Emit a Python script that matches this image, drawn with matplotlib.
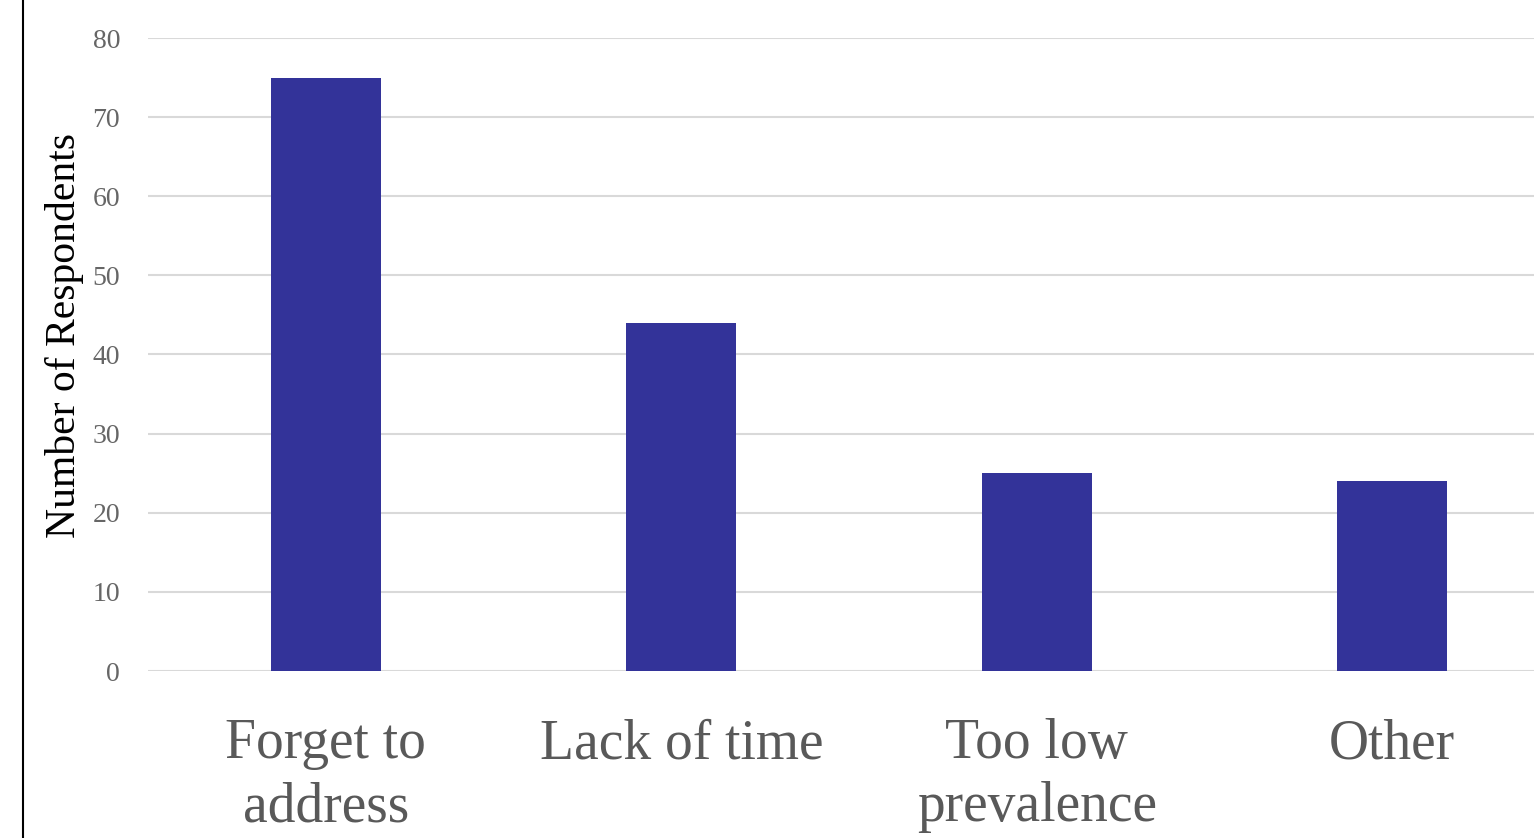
import matplotlib
matplotlib.use("Agg")
import matplotlib.pyplot as plt
from matplotlib.lines import Line2D

categories = ["Forget to\naddress", "Lack of time", "Too low\nprevalence", "Other"]
values = [75, 44, 25, 24]
yticks = [0, 10, 20, 30, 40, 50, 60, 70, 80]

plt.rcParams['font.family'] = ['Liberation Serif', 'DejaVu Serif']

W, H = 1534, 838
fig = plt.figure(figsize=(W/100, H/100), dpi=100)
left = 148 / W
right = 1570 / W
bottom = (H - 671) / H
top = (H - 38) / H
ax = fig.add_axes([left, bottom, right - left, top - bottom])

x = list(range(len(categories)))
ax.bar(x, values, width=0.31, color='#333399', zorder=3)
ax.set_xlim(-0.5, len(categories) - 0.5)
ax.set_ylim(0, 80)
ax.set_yticks(yticks)
ax.set_yticklabels([str(t) for t in yticks], fontsize=20, color='#666666')
ax.set_xticks(x)
ax.set_xticklabels(categories, fontsize=40, color='#595959', linespacing=1.27)
ax.tick_params(axis='both', length=0)
ax.tick_params(axis='y', pad=20)
ax.tick_params(axis='x', pad=34)
ax.grid(axis='y', color='#d9d9d9', linewidth=1.5, zorder=0)
for s in ax.spines.values():
    s.set_visible(False)
ax.set_ylabel("Number of Respondents", fontsize=30, color='black')
ax.yaxis.set_label_coords(-64 / ((right - left) * W), 0.53)

fig.add_artist(Line2D([23 / W, 23 / W], [0, 1], transform=fig.transFigure, color='black', linewidth=1.5))

fig.savefig("out.png", dpi=100)
